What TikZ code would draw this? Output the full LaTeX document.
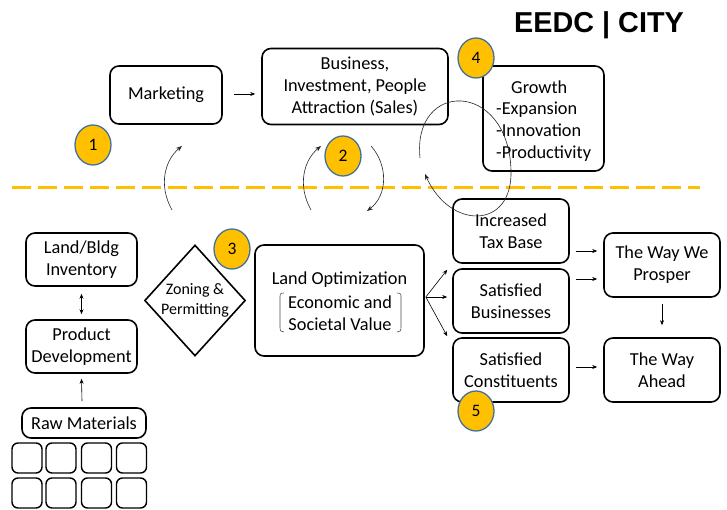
\documentclass[tikz,border=0pt]{standalone}
\usepackage{fontspec}
\setmainfont{Carlito}
\newfontfamily\titlefont{Liberation Sans}
\usetikzlibrary{shapes.geometric,arrows.meta,calc}
\definecolor{gold}{HTML}{FFC000}
\definecolor{ringblue}{HTML}{41719C}
\tikzset{
  x=1pt,y=-1pt,
  box/.style={draw=black,line width=1.6pt,rounded corners=9pt,align=center,inner sep=0pt},
  small/.style={draw=black,line width=1.4pt,rounded corners=6pt,inner sep=0pt},
  badge/.style={ellipse,fill=gold,draw=ringblue,line width=1.3pt,minimum width=36pt,minimum height=40pt,inner sep=0pt,font=\fontsize{17.5}{20}\selectfont},
  conn/.style={-{Stealth[length=5pt,width=4pt]},line width=0.6pt},
  curv/.style={-{Stealth[length=6pt,width=4.5pt]},line width=0.6pt,black!85},
  txt/.style={font=\fontsize{18.3}{21.8}\selectfont}
}
\begin{document}
\begin{tikzpicture}
\useasboundingbox (0,0) rectangle (727,510);
\fill[white] (0,0) rectangle (727,510);
% title
\node[font=\titlefont\bfseries\fontsize{28.8}{30}\selectfont] (title) at (599,25) {EEDC | CITY};
% dashed line
\coordinate (dl) at (12,188);
\coordinate (dr) at (700,188);
\draw[gold,line width=3pt,dash pattern=on 19pt off 7pt] (dl) -- (dr);
% top boxes
\node[box,txt,minimum width=112pt,minimum height=58pt] (mkt) at (166,95) {Marketing};
\node[box,txt,minimum width=186pt,minimum height=76pt] (bus) at (355,86.5) {Business,\\Investment, People\\Attraction (Sales)};
\node[box,minimum width=121pt,minimum height=105pt] (grow) at (543.5,118.5) {};
\node[txt,align=left,anchor=west,inner sep=0pt] (growt) at (496,121) {\hspace*{15pt}Growth\\-Expansion\\-Innovation\\-Productivity};
\draw[conn] ($(mkt.east)+(11,-1)$) coordinate (ma) -- ($(bus.west)+(-6,7.5)$) coordinate (mb);
% lower left
\node[box,txt,minimum width=111pt,minimum height=53pt] (land) at (81.5,259.5) {Land/Bldg\\Inventory};
\node[box,txt,minimum width=111pt,minimum height=53pt] (prod) at (81.5,346.5) {Product\\Development};
\node[box,txt,minimum width=124pt,minimum height=30pt] (raw) at (84,423) {Raw Materials};
\draw[{Stealth[length=5pt,width=4pt]}-{Stealth[length=5pt,width=4pt]},line width=0.6pt] ($(land.south)+(0,7)$) -- ($(prod.north)+(0,-5)$);
\draw[conn] ($(raw.north)+(-2,-6)$) -- ($(prod.south)+(0,5)$);
% grid
\foreach \c/\xx in {1/27,2/61,3/96.5,4/131.5}{
  \node[small,minimum width=30pt,minimum height=30pt] (g1\c) at (\xx,458) {};
  \node[small,minimum width=30pt,minimum height=30pt] (g2\c) at (\xx,493) {};
}
% diamond
\node[diamond,draw=black,line width=1.6pt,minimum width=100pt,minimum height=111pt,inner sep=0pt,align=center,font=\fontsize{16}{19.5}\selectfont] (zone) at (195,300.5) {Zoning \&\\Permitting};
% land optimization
\node[box,txt,minimum width=169pt,minimum height=111pt] (lopt) at (339.5,300.5) {};
\node[txt] (lot) at (339.5,280) {Land Optimization};
\node[txt,align=center] (lov) at (340,313) {Economic and\\Societal Value};
\draw[black!70,line width=0.6pt] (284,293) .. controls (280,293) and (280,294) .. (280,298) -- (280,327) .. controls (280,331) and (281,332) .. (284,332);
\draw[black!70,line width=0.6pt] (397,293) .. controls (401,293) and (401,294) .. (401,298) -- (401,327) .. controls (401,331) and (400,332) .. (397,332);
% right boxes
\node[box,txt,minimum width=116pt,minimum height=64pt] (tax) at (511,231) {Increased\\Tax Base};
\node[box,txt,minimum width=116pt,minimum height=64pt] (sbus) at (511,301) {Satisfied\\Businesses};
\node[box,txt,minimum width=116pt,minimum height=64pt] (scon) at (511,370) {Satisfied\\Constituents};
\node[box,txt,minimum width=116pt,minimum height=64pt] (pros) at (662,265) {The Way We\\Prosper};
\node[box,txt,minimum width=116pt,minimum height=64pt] (ahead) at (662,370) {The Way\\Ahead};
% fan arrows
\coordinate (fan) at ($(lopt.east)+(1,-3.5)$);
\draw[conn] (fan) -- ($(tax.south west)+(-5,6)$);
\draw[conn] (fan) -- ($(sbus.west)+(-5,-4)$);
\draw[conn] (fan) -- ($(scon.north west)+(-5,-1)$);
\draw[conn] ($(tax.east)+(6,20)$) -- ($(pros.west)+(-6,-14)$);
\draw[conn] ($(sbus.east)+(6,-22)$) -- ($(pros.west)+(-6,14)$);
\draw[conn] ($(scon.east)+(6,-3)$) -- ($(ahead.west)+(-6,-3)$);
\draw[conn] ($(pros.south)+(0,6)$) -- ($(ahead.north)+(0,-12)$);
% curved arrows
\draw[curv] (172,210) .. controls (158,185) and (165,160) .. (182,146);
\draw[curv] (311,210) .. controls (297,185) and (304,160) .. (321,146);
\draw[curv] (371,146) .. controls (388,165) and (388,195) .. (367,211);
\draw[curv] (420,158) .. controls (412,80) and (508,80) .. (511,170) .. controls (513,230) and (450,230) .. (425,174);
% badges
\node[badge] (b1) at (93,145) {1};
\node[badge] (b2) at (343,156) {2};
\node[badge] (b3) at (232,249) {3};
\node[badge] (b4) at (476,58) {4};
\node[badge] (b5) at (476,411) {5};
\end{tikzpicture}
\end{document}
